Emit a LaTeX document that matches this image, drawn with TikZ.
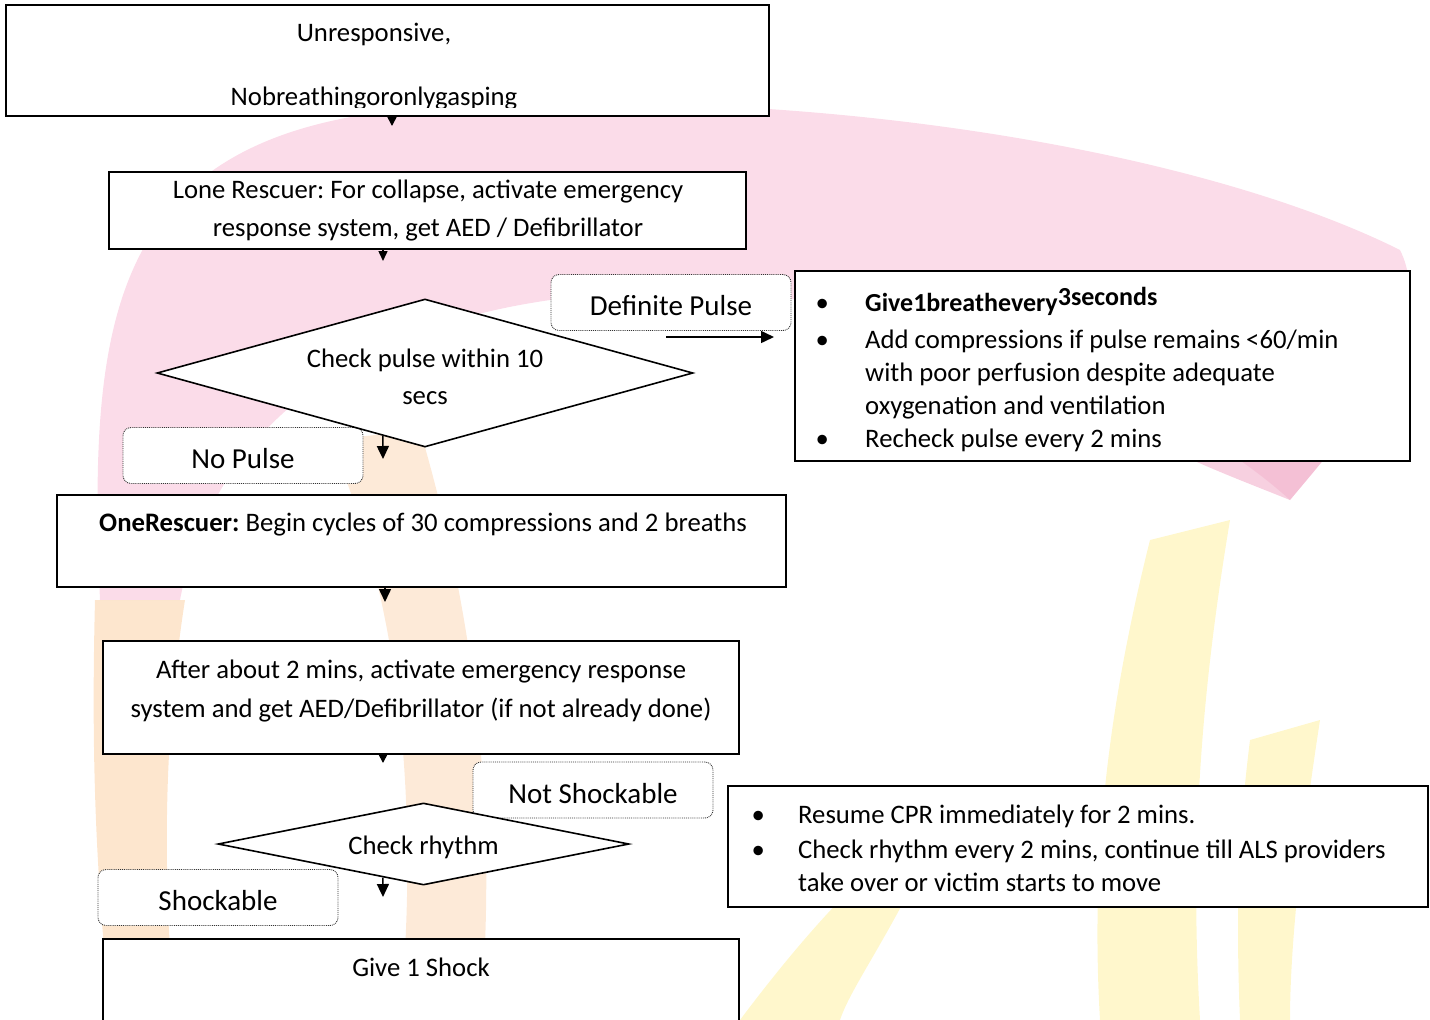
\documentclass[tikz,border=0pt]{standalone}
\usepackage{fontspec}
\setmainfont{Carlito}
\usetikzlibrary{shapes.geometric,arrows.meta,calc}
\frenchspacing

\definecolor{wmpink}{RGB}{251,220,233}
\definecolor{wmpinkdeep}{RGB}{240,170,198}
\definecolor{wmorange}{RGB}{252,220,185}
\definecolor{wmpeach}{RGB}{253,234,216}
\definecolor{wmyellow}{RGB}{255,247,204}

% body text size with a given line pitch
\newcommand{\txtsize}[1]{\fontsize{26.7}{#1}\selectfont}
\newcommand{\topstrut}{\rule{0pt}{22pt}}

\begin{document}
\begin{tikzpicture}[x=1pt,y=-1pt,
  box/.style={draw=black,line width=1.6pt,fill=white,inner sep=0pt},
  choice/.style={diamond,draw=black,line width=1.6pt,fill=white,inner sep=0pt},
  tag/.style={draw=black!80,densely dotted,line width=0.9pt,rounded corners=8pt,
    fill=white,minimum width=240pt,minimum height=56pt,inner sep=0pt,
    font=\fontsize{29}{32}\selectfont,text height=26pt,text depth=0pt},
  body/.style={align=center,inner sep=0pt,anchor=north},
  flow/.style={line width=1.5pt},
]
\useasboundingbox (0,0) rectangle (1430,1020);

% ---- faint logo in the background ----
\fill[wmpink] (100,600) .. controls (88,320) and (110,140) .. (400,110)
  .. controls (800,80) and (1200,150) .. (1400,250)
  .. controls (1440,330) and (1340,440) .. (1290,500)
  .. controls (1180,400) and (950,300) .. (700,292)
  .. controls (420,285) and (220,390) .. (180,600) -- cycle;
\fill[wmpinkdeep,opacity=0.55] (1150,440) .. controls (1250,380) and (1390,300) .. (1405,270)
  .. controls (1420,350) and (1340,440) .. (1290,500)
  .. controls (1240,480) and (1200,465) .. (1150,440) -- cycle;
\fill[wmorange,opacity=0.7] (95,600) .. controls (90,800) and (100,900) .. (110,1020)
  -- (175,1020) .. controls (165,900) and (160,760) .. (185,600) -- cycle;
\fill[wmpeach] (330,440) .. controls (400,600) and (420,800) .. (400,1020)
  -- (480,1020) .. controls (500,800) and (470,600) .. (420,430) -- cycle;
\fill[wmyellow] (1150,540) -- (1230,520) .. controls (1200,700) and (1190,850) .. (1200,1020)
  -- (1100,1020) .. controls (1090,850) and (1110,700) .. (1150,540) -- cycle;
\fill[wmyellow] (1250,740) -- (1320,720) .. controls (1300,850) and (1290,950) .. (1290,1020)
  -- (1240,1020) .. controls (1235,900) and (1240,820) .. (1250,740) -- cycle;
\fill[wmyellow] (850,890) -- (920,870) .. controls (880,950) and (850,990) .. (840,1020)
  -- (740,1020) .. controls (770,980) and (810,930) .. (850,890) -- cycle;

% ---- branch labels ----
\node[tag] (lpulse) at (671,302.5) {Definite Pulse};
\node[tag] (lnopulse) at (243,455.5) {No Pulse};
\node[tag] (lnotshock) at (593,790) {Not Shockable};
\node[tag] (lshock) at (218,897.5) {Shockable};

% ---- process boxes ----
\node[box,minimum width=763pt,minimum height=111pt] (b1) at (387.5,60.5) {};
\node[box,minimum width=637pt,minimum height=77pt] (b2) at (427.5,210.5) {};
\node[box,minimum width=729pt,minimum height=92pt] (b3) at (421.5,541) {};
\node[box,minimum width=636pt,minimum height=113pt] (b4) at (421,697.5) {};
\node[box,minimum width=636pt,minimum height=100pt] (b5) at (421,989) {};
\node[box,minimum width=615pt,minimum height=190pt] (r1) at (1102.5,366) {};
\node[box,minimum width=700pt,minimum height=121pt] (r2) at (1078,846.5) {};

% ---- decisions ----
\node[choice,minimum width=536pt,minimum height=148pt] (d1) at (425,373) {};
\node[choice,minimum width=411pt,minimum height=82pt] (d2) at (423.5,844) {};

% ---- texts ----
\begin{scope}
  \clip (0,0) rectangle (1430,107);
  \node[body,font=\txtsize{64}] (t1) at (374,19)
    {\topstrut Unresponsive,\\Nobreathingoronlygasping};
\end{scope}
\node[body,font=\txtsize{38}] (t2) at (428,176)
  {\topstrut Lone Rescuer: For collapse, activate emergency\\response system, get AED / Defibrillator};
\node[body,font=\txtsize{37}] (td1) at (425,345)
  {\topstrut Check pulse within 10\\secs};
\node[body,font=\txtsize{38}] (t3) at (423,509)
  {\topstrut\textbf{OneRescuer:} Begin cycles of 30 compressions and 2 breaths};
\node[body,font=\txtsize{39}] (t4) at (421,656)
  {\topstrut After about 2 mins, activate emergency response\\system and get AED/Defibrillator (if not already done)};
\node[body,font=\txtsize{38}] (td2) at (423.5,832) {\topstrut Check rhythm};
\node[body,font=\txtsize{38}] (t5) at (421,954) {\topstrut Give 1 Shock};

\node[anchor=north west,inner sep=0pt,font=\txtsize{33}] (r1t) at (815.5,287) {%
  \begin{tabular}{@{}p{49.5pt}@{}l@{}}
  \textbullet & {\fontsize{26}{33}\selectfont\textbf{Give1breathevery\raisebox{6pt}{3seconds}}}\\[4pt]
  \textbullet & Add compressions if pulse remains <60/min\\
              & with poor perfusion despite adequate\\
              & oxygenation and ventilation\\
  \textbullet & Recheck pulse every 2 mins
  \end{tabular}};
\node[anchor=north west,inner sep=0pt,font=\txtsize{33}] (r2t) at (751.5,800) {%
  \begin{tabular}{@{}p{46.5pt}@{}l@{}}
  \textbullet & Resume CPR immediately for 2 mins.\\[2pt]
  \textbullet & Check rhythm every 2 mins, continue till ALS providers\\
              & take over or victim starts to move
  \end{tabular}};

% ---- connectors ----
\coordinate (k1) at (392,126);
\coordinate (k2) at (383,261);
\coordinate (k3) at (383,459);
\coordinate (p1) at (666,337);
\coordinate (p2) at (774,337);
\coordinate (k5) at (385,602);
\coordinate (k6) at (383,763);
\coordinate (k7) at (383,897);

\draw[flow,-{Triangle[width=9pt,length=9pt]}] (b1.south -| k1) -- (k1);
\draw[flow,-{Triangle[width=9pt,length=10pt]}] (b2.south -| k2) -- (k2);
\draw[flow,-{Triangle[width=12pt,length=13pt]}] ($(d1.south)!0.157!(d1.west)$) -- (k3);
\draw[flow,-{Triangle[width=12pt,length=13pt]}] (p1) -- (p2);
\draw[flow,-{Triangle[width=12pt,length=13pt]}] (b3.south -| k5) -- (k5);
\draw[flow,-{Triangle[width=8pt,length=8pt]}] (b4.south -| k6) -- (k6);
\draw[flow,-{Triangle[width=12pt,length=13pt]}] ($(d2.south)!0.197!(d2.west)$) -- (k7);
\end{tikzpicture}
\end{document}
